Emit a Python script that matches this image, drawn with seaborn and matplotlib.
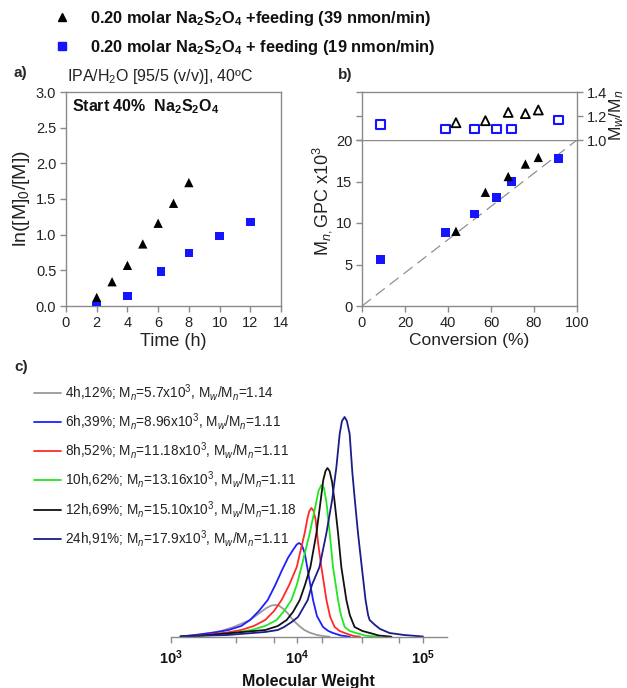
import numpy as np
import pandas as pd
import matplotlib
matplotlib.use("Agg")
import matplotlib.pyplot as plt
import seaborn as sns
from matplotlib.lines import Line2D
from matplotlib.ticker import FixedLocator, NullFormatter

sns.set_theme(style="ticks")
plt.rcParams['font.family'] = ['Liberation Sans', 'DejaVu Sans']
plt.rcParams['mathtext.fontset'] = 'custom'
plt.rcParams['mathtext.rm'] = 'Liberation Sans'
plt.rcParams['mathtext.it'] = 'Liberation Sans:italic'
plt.rcParams['mathtext.bf'] = 'Liberation Sans:bold'

# ---------------- data ----------------
# panel a : kinetics
time_39 = [2, 3, 4, 5, 6, 7, 8]
lnm_39 = [0.12, 0.34, 0.57, 0.87, 1.16, 1.44, 1.73]
time_19 = [2, 4, 6.2, 8, 10, 12]
lnm_19 = [0.0, 0.14, 0.48, 0.74, 0.98, 1.18]

# panel b : Mn vs conversion and dispersity
conv_19 = [8.6, 38.9, 52.4, 62.5, 69.5, 91.4]
mn_19 = [5.63, 8.85, 11.1, 13.08, 15.0, 17.8]
disp_19 = [1.128, 1.094, 1.094, 1.094, 1.094, 1.167]
conv_39 = [43.7, 57.4, 68.0, 76.0, 82.0]
mn_39 = [9.0, 13.7, 15.6, 17.1, 17.9]
disp_39 = [1.144, 1.161, 1.23, 1.22, 1.25]
theory_conv = [0, 100]
theory_mn = [0, 20]

# panel c : GPC traces (log10 MW, detector response)
logmw_4h = [3.08, 3.2, 3.4, 3.5, 3.63, 3.7, 3.76, 3.8, 3.83, 3.86, 3.9, 3.93, 3.97, 4.02, 4.06, 4.1, 4.16, 4.22, 4.26]
sig_4h = [0.5, 1.5, 6, 10, 17, 23.5, 29, 31.5, 32, 31.3, 27.5, 23.5, 17, 11, 7, 4.5, 2, 0.8, 0.3]
logmw_6h = [3.08, 3.19, 3.35, 3.46, 3.56, 3.63, 3.7, 3.77, 3.83, 3.88, 3.93, 3.97, 4.0, 4.018, 4.04, 4.063, 4.08, 4.105, 4.129, 4.16, 4.208, 4.25, 4.287, 4.35, 4.42]
sig_6h = [0.5, 2, 4.5, 7, 11, 17, 26, 37, 52, 66, 79, 87, 92.5, 94, 92, 84, 72, 54, 37, 21, 10, 6, 4, 1.5, 0.3]
logmw_8h = [3.08, 3.27, 3.45, 3.56, 3.66, 3.75, 3.82, 3.88, 3.94, 4.0, 4.063, 4.085, 4.1, 4.116, 4.132, 4.15, 4.17, 4.195, 4.235, 4.265, 4.3, 4.34, 4.38, 4.45, 4.5]
sig_8h = [0.5, 2, 4.5, 7, 11, 17, 26, 37, 52, 70, 104, 119, 126, 129, 126.5, 117, 93, 70, 37, 20, 10, 6, 4, 1, 0.3]
logmw_10h = [3.08, 3.35, 3.5, 3.64, 3.75, 3.84, 3.9, 3.958, 4.0, 4.037, 4.103, 4.15, 4.172, 4.195, 4.215, 4.235, 4.261, 4.287, 4.327, 4.35, 4.38, 4.42, 4.47, 4.55, 4.65]
sig_10h = [0.5, 2, 4, 7, 11, 17, 26, 37, 52, 70, 104, 132, 146, 152, 149, 135, 104, 70, 37, 22, 10, 6, 4, 1.2, 0.3]
logmw_12h = [3.08, 3.3, 3.48, 3.62, 3.75, 3.85, 3.92, 3.97, 4.024, 4.065, 4.108, 4.156, 4.19, 4.21, 4.228, 4.243, 4.26, 4.28, 4.30, 4.327, 4.353, 4.393, 4.42, 4.458, 4.52, 4.58, 4.65, 4.75]
sig_12h = [0.5, 2, 4, 5.5, 7, 11, 17, 25, 37, 52, 70, 104, 137, 157, 166, 169, 166, 155, 135, 104, 70, 37, 22, 10, 6, 4, 1.5, 0.3]
logmw_24h = [3.08, 3.15, 3.45, 3.6, 3.75, 3.85, 3.9, 3.96, 4.01, 4.087, 4.12, 4.18, 4.235, 4.28, 4.314, 4.34, 4.358, 4.379, 4.397, 4.419, 4.44, 4.46, 4.485, 4.515, 4.545, 4.565, 4.577, 4.62, 4.66, 4.735, 4.85, 5.0]
sig_24h = [0.5, 1, 2, 3.5, 5, 7, 10, 15, 20, 37, 52, 70, 104, 137, 170, 203, 216, 220, 216, 203, 165, 137, 104, 70, 37, 22, 17, 12, 8, 4, 2, 0.5]

gpc_labels = [
    "4h,12%; M$_n$=5.7x10$^3$, M$_w$/M$_n$=1.14",
    "6h,39%; M$_n$=8.96x10$^3$, M$_w$/M$_n$=1.11",
    "8h,52%; M$_n$=11.18x10$^3$, M$_w$/M$_n$=1.11",
    "10h,62%; M$_n$=13.16x10$^3$, M$_w$/M$_n$=1.11",
    "12h,69%; M$_n$=15.10x10$^3$, M$_w$/M$_n$=1.18",
    "24h,91%; M$_n$=17.9x10$^3$, M$_w$/M$_n$=1.11",
]
gpc_colors = ['#9a9a9a', '#1f1fff', '#ff2a2a', '#22e622', '#111111', '#1c1c8a']
gpc_x = [logmw_4h, logmw_6h, logmw_8h, logmw_10h, logmw_12h, logmw_24h]
gpc_y = [sig_4h, sig_6h, sig_8h, sig_10h, sig_12h, sig_24h]

legend_labels = [
    r"0.20 molar Na$_\mathbf{2}$S$_\mathbf{2}$O$_\mathbf{4}$ +feeding (39 nmon/min)",
    r"0.20 molar Na$_\mathbf{2}$S$_\mathbf{2}$O$_\mathbf{4}$ + feeding (19 nmon/min)",
]

BLUE = '#1414ff'
SPINE = '#8a8a8a'
W, H = 627, 688

def fx(px):
    return px / W

def fy(py):
    return 1 - py / H

fig = plt.figure(figsize=(W / 100, H / 100), dpi=100)
fig.patch.set_facecolor('white')

axA = fig.add_axes([fx(66), fy(306), fx(215), 214 / H])
axB = fig.add_axes([fx(362), fy(306), fx(215), 166 / H])
axB2 = fig.add_axes([fx(362), fy(140), fx(215), 48 / H])
axC = fig.add_axes([fx(170.5), fy(637), fx(276.5), 240 / H])

def style_ax(ax):
    for s in ax.spines.values():
        s.set_color(SPINE)
        s.set_linewidth(1.0)
        s.set_visible(True)
    ax.tick_params(direction='out', length=4, width=1, color=SPINE,
                   labelsize=10.5, labelcolor='#222222', pad=3)

# ---------------- panel a ----------------
sns.scatterplot(x=time_39, y=lnm_39, marker='^', color='black', s=45,
                edgecolor='none', ax=axA, zorder=3)
sns.scatterplot(x=time_19, y=lnm_19, marker='s', color=BLUE, s=38,
                edgecolor='none', ax=axA, zorder=3)
axA.set_xlim(0, 14)
axA.set_ylim(0, 3)
axA.set_xticks(range(0, 15, 2))
axA.set_yticks(np.arange(0, 3.01, 0.5))
axA.set_yticklabels([f"{v:.1f}" for v in np.arange(0, 3.01, 0.5)])
style_ax(axA)
axA.set_xlabel("Time (h)", fontsize=13, labelpad=2, color='#222222')
axA.set_ylabel("ln([M]$_0$/[M])", fontsize=14, labelpad=3, color='#222222')

fig.text(fx(67), fy(77), "IPA/H$_2$O [95/5 (v/v)], 40ºC", fontsize=11.5,
         ha='left', va='center', color='#222222')
fig.text(fx(72), fy(107), r"Start 40%  Na$_\mathbf{2}$S$_\mathbf{2}$O$_\mathbf{4}$",
         fontsize=11.5, fontweight='bold', ha='left', va='center', color='#111111')

# ---------------- panel b ----------------
sns.lineplot(x=theory_conv, y=theory_mn, color='#909090', lw=0.9,
             linestyle=(0, (9, 5)), ax=axB, zorder=1)
sns.scatterplot(x=conv_19, y=mn_19, marker='s', color=BLUE, s=38,
                edgecolor='none', ax=axB, zorder=3)
sns.scatterplot(x=conv_39, y=mn_39, marker='^', color='black', s=45,
                edgecolor='none', ax=axB, zorder=3)
axB.set_xlim(0, 100)
axB.set_ylim(0, 20)
axB.set_xticks(range(0, 101, 20))
axB.set_yticks(range(0, 21, 5))
style_ax(axB)
axB.set_xlabel("Conversion (%)", fontsize=12.5, labelpad=2, color='#222222')
axB.set_ylabel("")

sns.scatterplot(x=conv_19, y=disp_19, marker='s', s=36, facecolor='none',
                edgecolor=BLUE, linewidth=1.5, ax=axB2, zorder=3)
sns.scatterplot(x=conv_39, y=disp_39, marker='^', s=42, facecolor='none',
                edgecolor='black', linewidth=1.3, ax=axB2, zorder=3)
axB2.set_xlim(0, 100)
axB2.set_ylim(1.0, 1.4)
style_ax(axB2)
axB2.set_xticks([])
axB2.yaxis.tick_right()
axB2.set_yticks([1.0, 1.2, 1.4])
axB2.set_yticklabels(["1.0", "1.2", "1.4"])
axB2.tick_params(axis='y', left=True, labelleft=False, right=True, labelright=True)
axB2.spines['bottom'].set_visible(False)

fig.text(fx(322), fy(201), r"M$_{n,}$GPC x10$^3$", rotation=90, fontsize=13,
         ha='center', va='center', color='#222222')
fig.text(fx(617), fy(115), r"M$_w$/M$_n$", rotation=90, fontsize=12.5,
         ha='center', va='center', color='#222222')

# ---------------- panel c ----------------
rows = []
for lab, xs, ys in zip(gpc_labels, gpc_x, gpc_y):
    for lx, yv in zip(xs, ys):
        rows.append((lab, 10 ** lx, yv))
gpc = pd.DataFrame(rows, columns=['sample', 'mw', 'signal'])
sns.lineplot(data=gpc, x='mw', y='signal', hue='sample', hue_order=gpc_labels,
             palette=gpc_colors, sort=False, estimator=None, lw=1.3,
             legend=False, ax=axC)
for ln in axC.get_lines():
    ln.set_solid_joinstyle('round')
axC.set_xscale('log')
axC.set_xlim(1e3, 10 ** 5.19)
axC.set_ylim(0, 240)
for k in ['top', 'right', 'left']:
    axC.spines[k].set_visible(False)
axC.spines['bottom'].set_color(SPINE)
axC.spines['bottom'].set_linewidth(1.0)
axC.set_yticks([])
axC.xaxis.set_major_locator(FixedLocator([1e3, 1e4, 1e5]))
axC.set_xticklabels([r"$\mathbf{10^3}$", r"$\mathbf{10^4}$", r"$\mathbf{10^5}$"])
axC.xaxis.set_minor_locator(FixedLocator([3311, 6607, 15849, 33113, 64565]))
axC.xaxis.set_minor_formatter(NullFormatter())
axC.tick_params(axis='x', which='both', direction='out', length=4, width=1,
                color=SPINE, labelsize=10.5, labelcolor='#111111', pad=4)
axC.set_xlabel("Molecular Weight", fontsize=11.5, fontweight='bold',
               labelpad=5, color='#111111')
axC.set_ylabel("")
axC.patch.set_alpha(0)

leg = fig.legend(handles=axC.get_lines()[:6], labels=gpc_labels,
                 loc='upper left', bbox_to_anchor=(fx(34), fy(382)),
                 frameon=False, fontsize=9.8, handlelength=2.0,
                 handletextpad=0.25, labelspacing=0.6, borderpad=0,
                 borderaxespad=0)
for t in leg.get_texts():
    t.set_color('#222222')

# ---------------- top legend ----------------
h1 = Line2D([], [], marker='^', color='black', linestyle='none', markersize=6)
h2 = Line2D([], [], marker='s', color=BLUE, linestyle='none', markersize=5.5)
tl = fig.legend(handles=[h1, h2], labels=legend_labels, loc='upper left',
                bbox_to_anchor=(fx(52), fy(9)), frameon=False,
                prop={'weight': 'bold', 'size': 11.8}, handlelength=1.2,
                handletextpad=1.1, labelspacing=0.6, borderpad=0,
                borderaxespad=0)
for t in tl.get_texts():
    t.set_color('#111111')

# panel letters
fig.text(fx(14), fy(73), "a)", fontsize=11, fontweight='bold', va='center')
fig.text(fx(338), fy(75), "b)", fontsize=11, fontweight='bold', va='center')
fig.text(fx(14), fy(367), "c)", fontsize=11, fontweight='bold', va='center')

fig.savefig("out.png", dpi=100)
